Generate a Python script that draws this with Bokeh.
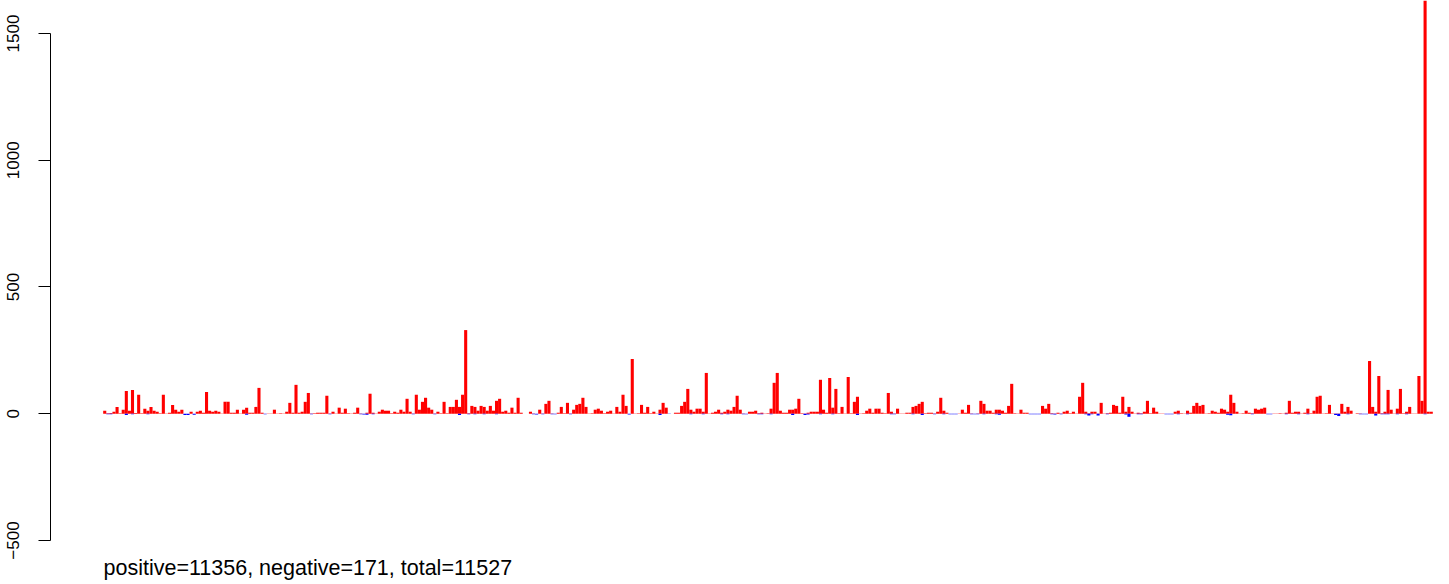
from bokeh.plotting import figure
from bokeh.models import Title, FixedTicker
from bokeh.embed import file_html
from bokeh.resources import INLINE

# positive counts per bin, read left to right (six stretches of the chart)
pos_a = [12, 2, 3, 8, 27, 2, 16, 90, 12, 94, 3, 75, 2, 20, 12, 27, 12, 8, 2, 75,
         1, 4, 35, 16, 8, 16, 0, 0, 8, 0, 8, 12, 4, 86, 12, 8, 12, 8, 1, 47,
         47, 4, 4, 16, 1, 16, 24, 4, 4, 27, 102, 4, 0, 1, 1, 16, 1, 2, 1, 8,
         43, 4, 114, 4, 8, 47, 82, 1, 2]
pos_b = [4, 4, 4, 71, 1, 8, 1, 24, 4, 20, 2, 1, 4, 24, 1, 0, 4, 79, 4, 1,
         8, 16, 12, 12, 2, 8, 4, 16, 8, 59, 8, 1, 75, 16, 47, 63, 24, 16, 1, 8,
         2, 47, 2, 27, 27, 55, 27, 75, 330, 2, 31, 27, 12, 31, 27, 12, 31, 12, 51, 59,
         8, 12, 4, 24, 4, 63, 4, 0, 0, 8]
pos_c = [1, 0, 16, 1, 39, 51, 1, 0, 4, 27, 2, 43, 1, 16, 35, 39, 63, 27, 1, 2,
         16, 20, 12, 2, 8, 12, 1, 27, 8, 75, 31, 0, 216, 1, 2, 35, 4, 27, 2, 8,
         1, 16, 43, 24, 0, 0, 4, 4, 31, 47, 98, 16, 8, 20, 20, 8, 161, 1, 4, 8,
         16, 4, 8, 16, 12, 27, 71, 16, 1, 0, 8, 8]
pos_d = [12, 2, 4, 1, 2, 20, 122, 161, 12, 4, 4, 16, 16, 20, 59, 2, 1, 4, 8, 8,
         8, 134, 16, 4, 141, 24, 98, 2, 27, 1, 145, 2, 47, 67, 1, 2, 12, 20, 4, 20,
         20, 4, 2, 82, 8, 1, 20, 1, 1, 4, 4, 27, 31, 39, 47, 2, 4, 4, 1, 8,
         63, 12, 4, 0, 0, 0, 1, 16, 4, 35]
pos_e = [1, 0, 1, 51, 39, 12, 12, 4, 16, 16, 12, 4, 31, 118, 2, 1, 16, 4, 4, 0,
         0, 0, 0, 31, 20, 39, 2, 1, 4, 1, 8, 12, 2, 8, 1, 67, 122, 8, 2, 8,
         8, 1, 43, 1, 2, 4, 35, 31, 4, 67, 8, 27, 8, 1, 4, 2, 8, 51, 2, 24,
         8, 1, 1, 0, 0, 0, 8, 12, 2, 1]
pos_f = [12, 4, 31, 43, 31, 35, 1, 2, 12, 8, 4, 20, 16, 8, 75, 43, 8, 1, 2, 12,
         4, 2, 20, 16, 20, 24, 0, 0, 1, 1, 2, 1, 4, 51, 4, 8, 8, 1, 4, 20,
         2, 12, 67, 71, 1, 2, 35, 1, 1, 1, 39, 8, 27, 12, 0, 2, 1, 0, 0, 208,
         27, 8, 149, 2, 8, 94, 16, 1, 20, 98, 2, 8, 27, 1, 1, 149, 51, 2250, 8, 8]

# negative counts (bin index -> count), drawn below zero
neg_index = [1, 2, 7, 9, 14, 26, 27, 29, 46, 52, 67,
             73, 83, 84, 85, 87, 100, 107, 115, 118, 120, 123, 127,
             139, 140, 142, 145, 146, 151, 170, 180, 183, 190, 194, 200, 202, 207, 208,
             212, 213, 216, 223, 227, 228, 232, 236, 244, 255, 256, 262, 265, 269, 272, 274, 275, 276,
             281, 282, 283, 285, 289, 290, 300, 301, 302, 303, 307, 308, 310, 318, 319, 320, 322, 325,
             331, 332, 335, 336, 344, 345, 346, 348,
             351, 364, 365, 372, 377, 378, 383, 387, 390, 399, 400, 403, 407, 408, 409, 412, 414, 415,
             416, 419, 422, 428]
neg_count = [2, 2, 5, 2, 2, 5, 5, 4, 4, 2, 2,
             2, 2, 3, 4, 2, 2, 2, 5, 2, 2, 2, 2,
             2, 3, 2, 2, 2, 2, 3, 5, 1, 2, 2, 2, 2, 2, 2,
             2, 2, 2, 5, 5, 3, 2, 2, 5, 2, 2, 2, 5, 2, 2, 2, 2, 2,
             2, 2, 2, 2, 2, 4, 2, 2, 2, 2, 2, 3, 2, 2, 7, 2, 7, 2,
             3, 12, 2, 2, 2, 2, 2, 2,
             2, 4, 6, 2, 2, 2, 2, 2, 2, 5, 9, 2, 2, 2, 2, 7, 2, 2,
             2, 2, 2, 2]

y_ticks = [-500, 0, 500, 1000, 1500]
caption = "positive=11356, negative=171, total=11527"

pos = pos_a + pos_b + pos_c + pos_d + pos_e + pos_f
n = len(pos)
xs = list(range(n))
neg = [0] * n
for i, v in zip(neg_index, neg_count):
    neg[i] = v
neg_bottom = [-v for v in neg]

FONT = "Liberation Sans"

p = figure(width=1449, height=584, output_backend="svg", toolbar_location=None,
           x_range=(-17.58, 435.91), y_range=(-531.5, 1630),
           x_axis_type=None,
           min_border_left=50, min_border_right=0, min_border_top=0, min_border_bottom=35)
p.outline_line_color = None
p.xgrid.visible = False
p.ygrid.visible = False
p.background_fill_color = "white"
p.border_fill_color = "white"

p.vbar(x=xs, width=1, bottom=0, top=pos, fill_color="#FF0000", line_color=None)
p.vbar(x=xs, width=1, top=0, bottom=neg_bottom, fill_color="#0000FF", line_color=None)

ax = p.yaxis[0]
ax.ticker = FixedTicker(ticks=y_ticks)
ax.bounds = (y_ticks[0], y_ticks[-1])
ax.major_label_orientation = "vertical"
ax.major_label_overrides = {t: (str(t).replace("-", "\u2212")) for t in y_ticks}
ax.major_label_text_font = FONT
ax.major_label_text_font_size = "17px"
ax.major_label_text_color = "black"
ax.major_label_standoff = 19
ax.major_tick_out = 12
ax.major_tick_in = 0
ax.minor_tick_line_color = None
ax.axis_line_color = "black"
ax.major_tick_line_color = "black"

cap = Title(text=caption, align="left", offset=53, standoff=10,
            text_font=FONT, text_font_size="21.5px", text_font_style="normal",
            text_color="black")
p.add_layout(cap, "below")

open("out.html", "w").write(file_html(p, INLINE))
